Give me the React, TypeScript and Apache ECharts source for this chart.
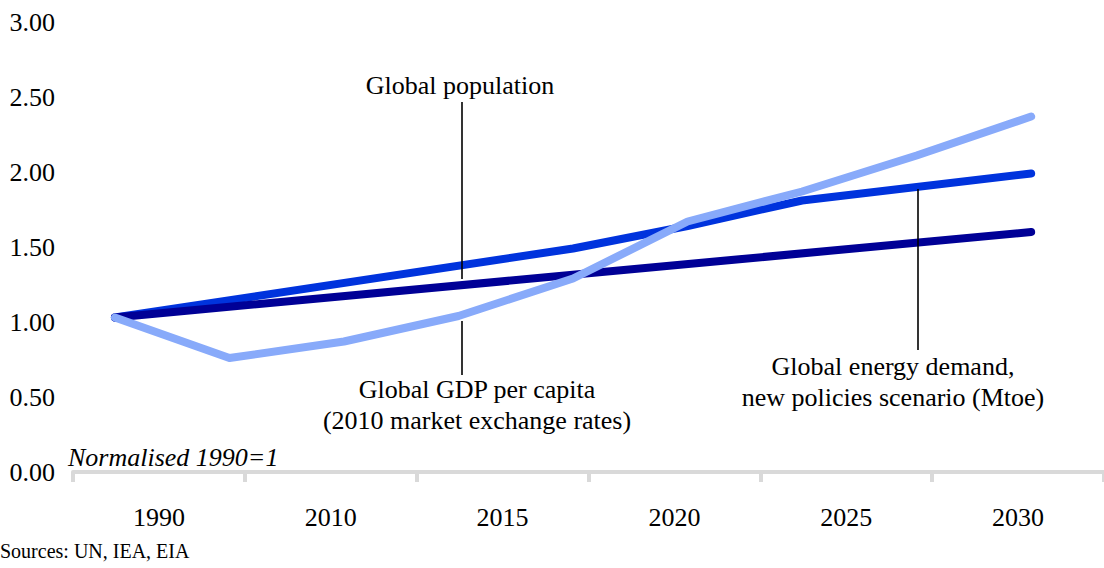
import React, { useEffect, useRef } from "react";
import * as echarts from "echarts";

const categories = ["1990", "2010", "2015", "2020", "2025", "2030"];
const gdpYears = [1990, 1995, 2000, 2005, 2010, 2015, 2020, 2025, 2030];
const gdpPerCapita = [1.03, 0.76, 0.87, 1.04, 1.29, 1.67, 1.87, 2.11, 2.37];
const energyYears = [1990, 2010, 2015, 2020, 2030];
const energyDemand = [1.03, 1.49, 1.64, 1.81, 1.99];
const populationYears = [1990, 2030];
const population = [1.03, 1.6];

const FONT = "'Liberation Serif', 'Times New Roman', serif";

export default function App() {
  const ref = useRef<HTMLDivElement>(null);
  useEffect(() => {
    if (!ref.current) return;
    const chart = echarts.init(ref.current, null, { renderer: "svg" });
    const pair = (xs: number[], ys: number[]) => xs.map((x, i) => [x, ys[i]]);
    const lineStyle = (color: string) => ({ color, width: 8, cap: "round", join: "round" });
    const txt = (text: string, x: number, y: number, align = "center", italic = false) => ({
      type: "text",
      x,
      y,
      style: {
        text,
        fill: "#000",
        font: `${italic ? "italic " : ""}26px ${FONT}`,
        textAlign: align,
        textVerticalAlign: "middle",
      },
    });
    const ptr = (x: number, y1: number, y2: number) => ({
      type: "line",
      shape: { x1: x, y1, x2: x, y2 },
      style: { stroke: "#000", lineWidth: 1.6 },
      z: 10,
    });
    chart.setOption({
      animation: false,
      grid: { left: 73, right: -2, top: 22, bottom: 96 },
      xAxis: [
        {
          type: "category",
          data: categories,
          boundaryGap: true,
          offset: 4,
          axisLine: { lineStyle: { color: "#d9d9d9", width: 4 } },
          axisTick: { show: true, length: 10, lineStyle: { color: "#d9d9d9", width: 4 } },
          axisLabel: { color: "#000", fontFamily: FONT, fontSize: 26, margin: 28 },
          splitLine: { show: false },
        },
        {
          type: "value",
          min: 1988.17,
          max: 2033.18,
          show: false,
          splitLine: { show: false },
        },
      ],
      yAxis: {
        type: "value",
        min: 0,
        max: 3,
        interval: 0.5,
        axisLine: { show: false },
        axisTick: { show: false },
        splitLine: { show: false },
        axisLabel: {
          color: "#000",
          fontFamily: FONT,
          fontSize: 26,
          margin: 18,
          formatter: (v: number) => v.toFixed(2),
        },
      },
      series: [
        {
          name: "Global energy demand",
          type: "line",
          xAxisIndex: 1,
          data: pair(energyYears, energyDemand),
          showSymbol: false,
          lineStyle: lineStyle("#0033DD"),
          z: 2,
        },
        {
          name: "Global population",
          type: "line",
          xAxisIndex: 1,
          data: pair(populationYears, population),
          showSymbol: false,
          lineStyle: lineStyle("#000096"),
          z: 3,
        },
        {
          name: "Global GDP per capita",
          type: "line",
          xAxisIndex: 1,
          data: pair(gdpYears, gdpPerCapita),
          showSymbol: false,
          lineStyle: lineStyle("#88AAFA"),
          z: 4,
        },
      ],
      graphic: [
        txt("Global population", 460, 85),
        ptr(462, 102, 279),
        txt("Global GDP per capita", 477, 389),
        txt("(2010 market exchange rates)", 477, 420),
        ptr(462, 321, 375),
        txt("Global energy demand,", 893, 366),
        txt("new policies scenario (Mtoe)", 893, 397),
        ptr(918, 189, 350),
        txt("Normalised 1990=1", 68, 457, "left", true),
        {
          type: "text",
          x: 0,
          y: 551,
          style: {
            text: "Sources: UN, IEA, EIA",
            fill: "#000",
            font: `20px ${FONT}`,
            textAlign: "left",
            textVerticalAlign: "middle",
          },
        },
      ],
    });
    return () => chart.dispose();
  }, []);
  return (
    <div
      ref={ref}
      style={{ position: "fixed", left: 0, top: 0, width: 1104, height: 568, background: "#fff" }}
    />
  );
}
